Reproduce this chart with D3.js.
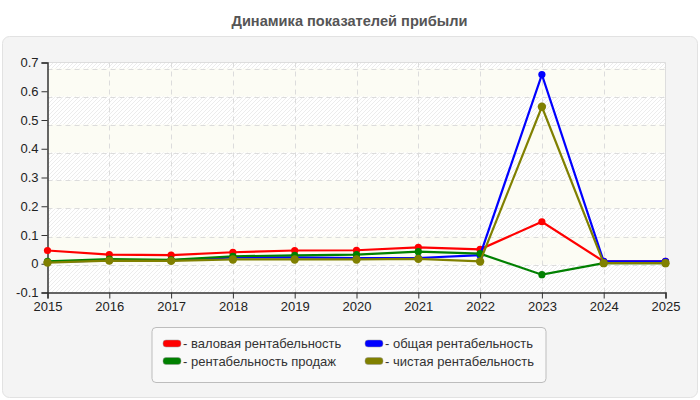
<!DOCTYPE html>
<meta charset="utf-8">
<script src="https://d3js.org/d3.v7.min.js"></script>
<style>
  body { margin: 0; background: #fff; }
  svg text { font-family: "Liberation Sans", Arial, sans-serif; }
</style>
<body>
<svg id="chart" width="700" height="400"></svg>
<script>
// data
var years = [2015, 2016, 2017, 2018, 2019, 2020, 2021, 2022, 2023, 2024, 2025];
var grossMargin = [0.046, 0.032, 0.030, 0.040, 0.046, 0.047, 0.057, 0.050, 0.146, 0.008, 0.008];
var totalMargin = [0.006, 0.012, 0.012, 0.022, 0.022, 0.020, 0.020, 0.030, 0.658, 0.008, 0.008];
var salesMargin = [0.008, 0.016, 0.014, 0.026, 0.029, 0.032, 0.042, 0.035, -0.038, 0.002, 0.002];
var netMargin = [0.004, 0.011, 0.010, 0.015, 0.015, 0.015, 0.017, 0.008, 0.546, 0.002, 0.002];
var seriesNames = ["валовая рентабельность", "общая рентабельность", "рентабельность продаж", "чистая рентабельность"];
var seriesColors = ["#ff0000", "#0000ff", "#008000", "#808000"];
var yTicks = [-0.1, 0, 0.1, 0.2, 0.3, 0.4, 0.5, 0.6, 0.7];

var series = [grossMargin, totalMargin, salesMargin, netMargin];

var svg = d3.select("#chart");
var pLeft = 47.5, pRight = 665.5, pTop = 62.5, pBottom = 292.5;

var x = d3.scaleLinear().domain([2015, 2025]).range([pLeft, pRight]);
var y = d3.scaleLinear().domain([-0.1, 0.7]).range([pBottom, pTop]);
// the background bands / horizontal grid in the original run on a 28px step
var yGrid = d3.scaleLinear().domain([-0.1, 0.7]).range([pBottom, pBottom - 8 * 28]);

// title
svg.append("text")
  .attr("x", 349.5).attr("y", 25.5)
  .attr("text-anchor", "middle")
  .attr("textLength", 236).attr("lengthAdjust", "spacingAndGlyphs")
  .style("font-size", "14.5px").style("font-weight", "bold")
  .attr("fill", "#555")
  .text("Динамика показателей прибыли");

// outer panel
svg.append("rect")
  .attr("x", 2.5).attr("y", 36.5).attr("width", 695).attr("height", 361)
  .attr("rx", 7)
  .attr("fill", "#f4f4f4").attr("stroke", "#e2e2e2");

// hatch pattern
var defs = svg.append("defs");
var pat = defs.append("pattern")
  .attr("id", "hatch").attr("patternUnits", "userSpaceOnUse")
  .attr("width", 4).attr("height", 4);
pat.append("rect").attr("width", 4).attr("height", 4).attr("fill", "#ffffff");
pat.append("path").attr("d", "M-1,1 l2,-2 M0,4 l4,-4 M3,5 l2,-2")
  .attr("stroke", "#ececec").attr("stroke-width", 1);

// plot background
svg.append("rect")
  .attr("x", pLeft).attr("y", pTop).attr("width", pRight - pLeft).attr("height", pBottom - pTop)
  .attr("fill", "#fcfcf4");

svg.append("g").selectAll("rect")
  .data(yTicks.filter(function (d, i) { return i % 2 === 0; }))
  .enter().append("rect")
  .attr("x", pLeft)
  .attr("width", pRight - pLeft)
  .attr("y", function (d) { return Math.max(pTop, yGrid(d + 0.1)); })
  .attr("height", function (d) { return yGrid(d) - Math.max(pTop, yGrid(d + 0.1)); })
  .attr("fill", "url(#hatch)");

// grid
var grid = svg.append("g").attr("stroke", "#dcdcdc").attr("stroke-dasharray", "5,4");
grid.selectAll("line.h")
  .data(yTicks.slice(1))
  .enter().append("line")
  .attr("x1", pLeft).attr("x2", pRight)
  .attr("y1", function (d) { return Math.round(yGrid(d)) + 0.5; })
  .attr("y2", function (d) { return Math.round(yGrid(d)) + 0.5; });
grid.selectAll("line.v")
  .data(years.slice(1, -1))
  .enter().append("line")
  .attr("y1", pTop).attr("y2", pBottom)
  .attr("x1", function (d) { return Math.round(x(d)) + 0.5; })
  .attr("x2", function (d) { return Math.round(x(d)) + 0.5; });

// top / right border
svg.append("path")
  .attr("d", "M" + pLeft + "," + pTop + "H" + pRight + "V" + pBottom)
  .attr("fill", "none").attr("stroke", "#dddddd");

// axes
var yAxis = svg.append("g")
  .attr("transform", "translate(" + pLeft + ",0)")
  .call(d3.axisLeft(y).tickValues(yTicks).tickSize(6).tickPadding(3)
    .tickFormat(function (d) { return String(+d.toFixed(1)); }));
var xAxis = svg.append("g")
  .attr("transform", "translate(0," + pBottom + ")")
  .call(d3.axisBottom(x).tickValues(years).tickSize(6).tickPadding(3).tickFormat(d3.format("d")));
[yAxis, xAxis].forEach(function (ax) {
  ax.select(".domain").attr("stroke", "#333").attr("stroke-width", 1.5);
  ax.selectAll(".tick line").attr("stroke", "#333");
  ax.selectAll(".tick text").attr("fill", "#222").style("font-size", "13px")
    .style("font-family", "'Liberation Sans', Arial, sans-serif");
});

// lines and markers
var line = d3.line()
  .x(function (d, i) { return x(years[i]); })
  .y(function (d) { return y(d); });

series.forEach(function (vals, k) {
  var g = svg.append("g");
  g.append("path")
    .datum(vals)
    .attr("d", line)
    .attr("fill", "none")
    .attr("stroke", seriesColors[k])
    .attr("stroke-width", 2.2);
  g.selectAll("circle")
    .data(vals)
    .enter().append("circle")
    .attr("cx", function (d, i) { return x(years[i]); })
    .attr("cy", function (d) { return y(d); })
    .attr("r", k === 3 ? 4.2 : 3.6)
    .attr("fill", seriesColors[k]);
});

// legend
var legend = svg.append("g");
legend.append("rect")
  .attr("x", 152).attr("y", 327.5).attr("width", 394).attr("height", 55)
  .attr("rx", 4)
  .attr("fill", "#f9f9f9").attr("stroke", "#bdbdbd");
var legendPos = [[163, 343.5], [365, 343.5], [163, 361], [365, 361]];
seriesNames.forEach(function (name, k) {
  var p = legendPos[k];
  legend.append("rect")
    .attr("x", p[0]).attr("y", p[1] - 3.5).attr("width", 18).attr("height", 7)
    .attr("rx", 3)
    .attr("fill", seriesColors[k]).attr("stroke", "#999").attr("stroke-width", 0.5);
  legend.append("text")
    .attr("x", p[0] + 20).attr("y", p[1] + 4.5)
    .style("font-size", "13px").attr("fill", "#333")
    .text("- " + name);
});
</script>
</body>
